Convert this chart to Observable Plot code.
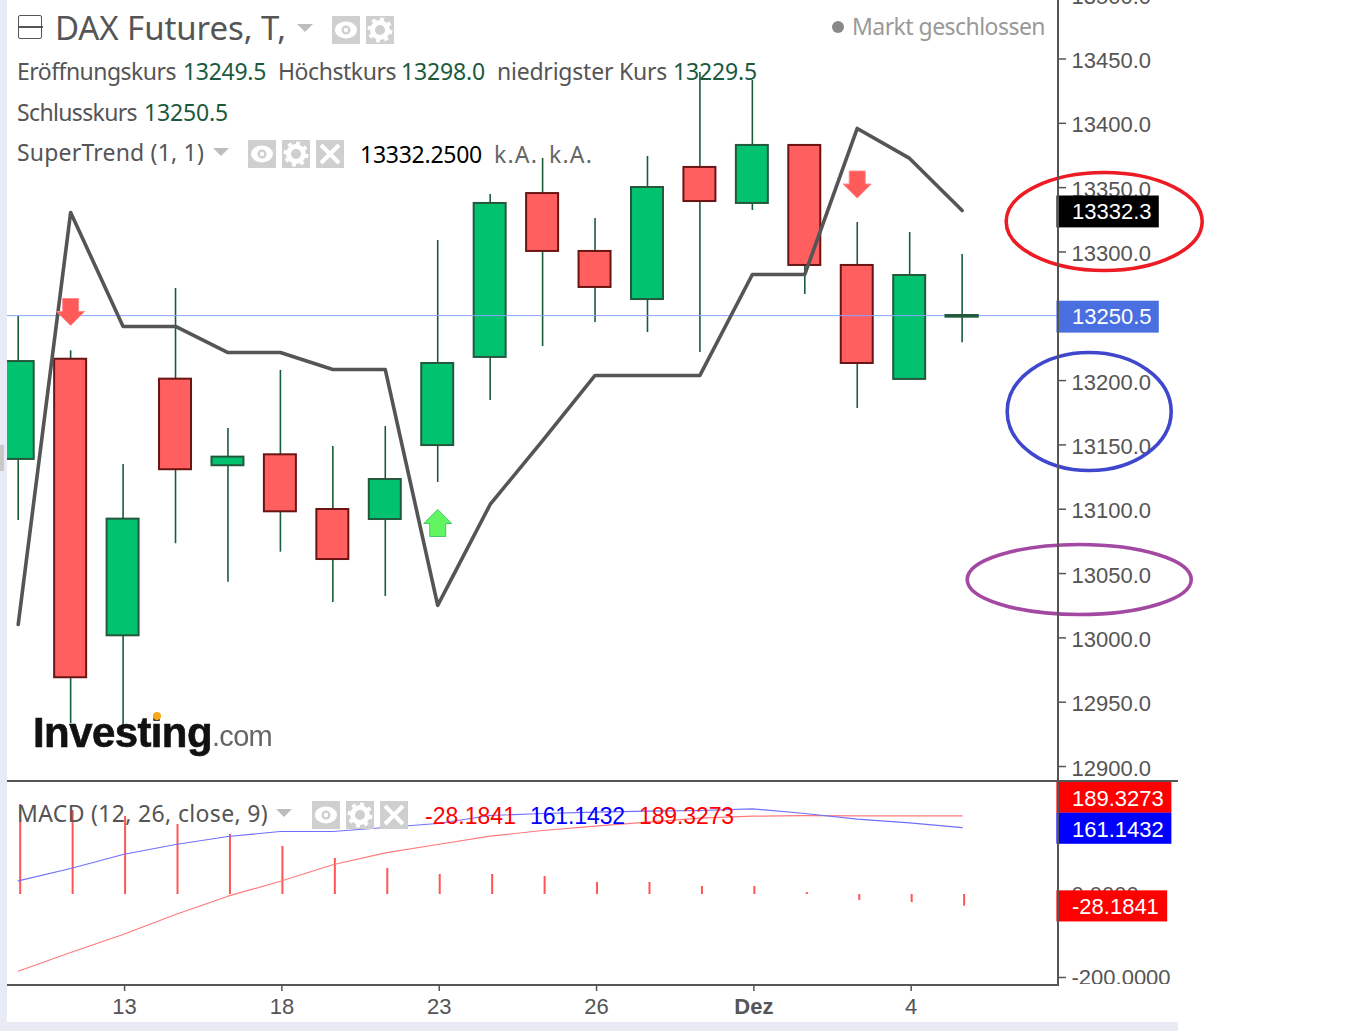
<!DOCTYPE html>
<html lang="de"><head><meta charset="utf-8">
<script src="https://cdn.jsdelivr.net/npm/d3@7"></script>
<script src="https://cdn.jsdelivr.net/npm/@observablehq/plot@0.6"></script>
<style>
html,body{margin:0;padding:0;background:#fff;overflow:hidden}
#page{position:relative;width:1355px;height:1031px;overflow:hidden;font-family:"Noto Sans",sans-serif}
#page>*{position:absolute}
.t{white-space:nowrap;line-height:1}
svg{background:transparent!important}
</style></head><body><div id="page"></div>
<script>
// ---- candles ----
const highs   =[13249.8,13223.2,13134.8,13271.6,13162.8,13207.9,13148.8,13164.3,13308.9,13344.7,13372.7,13326.0,13374.2,13439.5,13433.3,13382.8,13322.9,13315.1,13298.0];
const bodyTops=[13214.8,13216.6,13092.3,13201.1,13140.5,13142.3,13099.8,13123.1,13213.3,13337.7,13345.4,13300.4,13350.1,13365.7,13382.8,13382.8,13289.5,13281.7,13250.5];
const bodyBots=[13138.7,12969.0,13001.6,13130.7,13133.8,13098.0,13060.9,13092.0,13149.5,13218.0,13300.4,13272.4,13263.0,13339.2,13337.7,13289.5,13213.3,13200.9,13249.5];
const lows    =[13091.2,12933.4,12924.1,13073.1,13043.3,13066.6,13027.5,13032.2,13120.8,13184.5,13226.5,13245.2,13237.4,13221.8,13332.2,13266.9,13178.3,13200.9,13229.5];
const kinds   =["g","r","g","r","g","r","r","g","g","g","r","r","g","r","g","r","r","g","d"];
const superTrend=[13010.4,13330.7,13242.1,13242.1,13221.8,13221.8,13208.6,13208.6,13025.2,13103.7,13153.4,13204.0,13204.0,13204.0,13282.5,13282.5,13396.0,13372.7,13332.3];
const arrowIdx=[1,16,8], arrowPrice=[13253.7,13352.8,13088.9], arrowDir=["down","down","up"];
const priceTicks=d3.range(12900,13501,50);
const lastClose=13250.5, lastTrend=13332.3;
// ---- MACD ----
const macdBlue=[33,62.7,96.4,120.5,139.8,151.8,151.8,161.4,171.1,190.4,195.2,198.3,200.7,202.4,206.5,195.2,181.4,172.8,161.1432];
const macdRed=[-184.8,-139.8,-96.4,-48.2,-4.1,32,71.6,100.5,120.5,140.5,154.2,164.6,174.2,183.9,188.7,190,189.5,189.4,189.3273];
const macdHist=[216.9,202.4,188,168.7,144.6,115.7,86.7,62.7,48.2,48.2,43.4,28.9,28.9,19.3,19.3,4.8,-14.5,-19.3,-28.1841];
const macdTicks=[0,-200];
const macdLabelVals=[189.3273,161.1432,-28.1841], macdLabelAt=[233.7,159,-28.1841], macdLabelColors=["#ff0000","#0000ff","#ff0000"];
const xTickIdx=[2,5,8,11,14,17], xTickLabels=["13","18","23","26","Dez","4"];

const page=document.getElementById("page");
const candles=highs.map((h,i)=>({i,h,t:bodyTops[i],b:bodyBots[i],l:lows[i],k:kinds[i],st:superTrend[i]}));
const xDomain=[(7-17.7)/52.44,(1058-17.7)/52.44];
const halfBody=0.305;
const fills={g:"#00c26f",r:"#ff5f5f",d:"#1f5a3a"}, strokes={g:"#24583c",r:"#6a1414",d:"#1f5a3a"};

function box(l,t,w,h,bg){const d=document.createElement("div");d.style.cssText=`left:${l}px;top:${t}px;width:${w}px;height:${h}px;background:${bg}`;page.append(d);return d;}
// page chrome
box(0,0,7,1031,"#e8ebf6");box(0,1022,1178,9,"#e8eaf4");box(0,445,4,26,"#c8c8c8");

const arrowSymbol=dir=>({draw(c){const s=dir==="down"?1:-1;
  c.moveTo(-8,-13*s);c.lineTo(8,-13*s);c.lineTo(8,0);c.lineTo(14,0);c.lineTo(0,14*s);c.lineTo(-14,0);c.lineTo(-8,0);c.closePath();}});
const ellipseSymbol=(rx,ry)=>({draw(c){const k=0.5523;
  c.moveTo(-rx,0);c.bezierCurveTo(-rx,-k*ry,-k*rx,-ry,0,-ry);c.bezierCurveTo(k*rx,-ry,rx,-k*ry,rx,0);
  c.bezierCurveTo(rx,k*ry,k*rx,ry,0,ry);c.bezierCurveTo(-k*rx,ry,-rx,k*ry,-rx,0);c.closePath();}});
const axisStyle={fontSize:22,color:"#555",stroke:"#555",strokeWidth:1.5,label:null};

const main=Plot.plot({
  width:1355,height:781,marginLeft:7,marginRight:297,marginTop:0,marginBottom:0,
  style:{fontFamily:"'Liberation Sans',Arial,sans-serif",overflow:"visible"},
  x:{domain:xDomain,axis:null},
  y:{domain:[12900,13500],range:[766,-5.82],axis:null},
  marks:[
    Plot.axisY({anchor:"right",ticks:priceTicks,tickSize:7,text:null,stroke:"#555",strokeWidth:1.5,label:null}),
    Plot.axisY({anchor:"right",ticks:priceTicks,tickSize:0,tickPadding:13,dy:2,tickFormat:d=>d.toFixed(1),...axisStyle}),
    Plot.ruleX(candles,{x:"i",y1:"l",y2:"h",stroke:"#1a5c3a",strokeWidth:1.6}),
    Plot.rect(candles,{x1:d=>d.i-halfBody,x2:d=>d.i+halfBody,y1:"b",y2:"t",fill:d=>fills[d.k],stroke:d=>strokes[d.k],strokeWidth:2,clip:true}),
    Plot.ruleY([lastClose],{x1:xDomain[0],x2:xDomain[1],stroke:"#8aa4ff",strokeWidth:1}),
    Plot.rect(candles.filter(d=>d.k==="d"),{x1:d=>d.i-halfBody,x2:d=>d.i+halfBody,y1:"b",y2:"t",fill:"#1f5a3a",stroke:"#1f5a3a",strokeWidth:2}),
    Plot.line(candles,{x:"i",y:"st",stroke:"#555",strokeWidth:3.6,curve:"linear"}),
    ...arrowIdx.map((a,j)=>Plot.dot([{a,p:arrowPrice[j]}],{x:"a",y:"p",r:1,symbol:arrowSymbol(arrowDir[j]),
       fill:arrowDir[j]==="down"?"#ff5a5a":"#62f562",stroke:arrowDir[j]==="down"?"#ff8a8a":"#45c76a",strokeWidth:1})),
    // price tags on the axis
    Plot.rect([{p:lastTrend,c:"#000"},{p:lastClose,c:"#4a6fe0"}],{x1:xDomain[1]-0.03,x2:21.76,y1:d=>d.p+11.2,y2:d=>d.p-13.6,fill:"c"}),
    Plot.text([lastTrend,lastClose],{x:xDomain[1],y:d=>d,text:d=>d.toFixed(1),dx:13.5,dy:1.5,textAnchor:"start",fill:"#fff",fontSize:22}),
    // hand-drawn ellipses
    Plot.dot([{i:20.709,p:13323.7}],{x:"i",y:"p",r:1,symbol:ellipseSymbol(98,49),stroke:"#ed1c24",strokeWidth:3.6,fill:"none"}),
    Plot.dot([{i:20.423,p:13176}],{x:"i",y:"p",r:1,symbol:ellipseSymbol(82,59),stroke:"#3f48cc",strokeWidth:3.6,fill:"none"}),
    Plot.dot([{i:20.233,p:13045.4}],{x:"i",y:"p",r:1,symbol:ellipseSymbol(112,35),stroke:"#a349a4",strokeWidth:3.6,fill:"none"})
  ]
});
main.style.cssText+=";left:0;top:0";
page.append(main);

const macdRows=candles.map(d=>({i:d.i,blue:macdBlue[d.i],red:macdRed[d.i],hist:macdHist[d.i]}));
const macdTags=macdLabelVals.map((v,j)=>({v,at:macdLabelAt[j],c:macdLabelColors[j]}));
const macd=Plot.plot({
  width:1355,height:250,marginLeft:7,marginRight:297,marginTop:0,marginBottom:47,
  style:{fontFamily:"'Liberation Sans',Arial,sans-serif",overflow:"visible"},
  x:{domain:xDomain,axis:null},
  y:{domain:[-200,300],range:[196,-11.5],axis:null},
  marks:[
    Plot.axisY({anchor:"right",ticks:macdTicks,tickSize:7,tickPadding:6,tickFormat:d=>d.toFixed(4),...axisStyle}),
    Plot.axisX({anchor:"bottom",ticks:xTickIdx.filter((_,j)=>xTickLabels[j]!=="Dez"),tickSize:7,tickPadding:7,dx:1.5,
      tickFormat:i=>xTickLabels[xTickIdx.indexOf(i)],...axisStyle}),
    Plot.axisX({anchor:"bottom",ticks:xTickIdx.filter((_,j)=>xTickLabels[j]==="Dez"),tickSize:7,tickPadding:7,dx:1.5,
      tickFormat:i=>xTickLabels[xTickIdx.indexOf(i)],fontWeight:"bold",...axisStyle}),
    Plot.ruleX(macdRows,{x:"i",y1:0,y2:"hist",dx:2,stroke:"#ff5555",strokeWidth:2}),
    Plot.line(macdRows,{x:"i",y:"red",stroke:"#ff7a7a",strokeWidth:1.2}),
    Plot.line(macdRows,{x:"i",y:"blue",stroke:"#7070ff",strokeWidth:1.2}),
    Plot.rect(macdTags,{x1:xDomain[1]-0.03,x2:d=>d.v<0?21.92:22,y1:d=>d.at+37,y2:d=>d.at-38,fill:"c"}),
    Plot.text(macdTags,{x:xDomain[1],y:"at",text:d=>d.v.toFixed(4),textAnchor:"start",fill:"#fff",fontSize:22,dx:13.5,dy:1})
  ]
});
macd.style.cssText+=";left:0;top:781px";
page.append(macd);

// the reference cuts the lowest axis label at the panel edge
box(1060,984,118,8,"#fff");
// frame lines
box(1057,0,2,985,"#555");box(7,780,1171,2,"#555");box(7,984,1052,2,"#555");

// legend text, fitted to the widths seen in the reference
function txt(s,l,cy,size,color,w,extra){
  const e=document.createElement("div");e.className="t";e.textContent=s;
  e.style.cssText=`left:${l}px;font-size:${size}px;color:${color};`+(extra||"");
  page.append(e);
  const r=e.getBoundingClientRect();
  e.style.top=(cy-r.height/2)+"px";
  if(w)e.style.letterSpacing=((w-r.width)/s.length)+"px";
  return e;
}
const G="#555",V="#1b5a3c";
txt("DAX Futures, T,",55,27.5,33,G,231);
txt("Markt geschlossen",852,26.5,23,"#999",193);
txt("Eröffnungskurs",17,71.5,23,G,159);
txt("13249.5",183,71.5,23,V,83);
txt("Höchstkurs",278,71.5,23,G,118);
txt("13298.0",401,71.5,23,V,84);
txt("niedrigster Kurs",497,71.5,23,G,170);
txt("13229.5",673,71.5,23,V,84);
txt("Schlusskurs",17,112.5,23,G,120);
txt("13250.5",144,112.5,23,V,84);
txt("SuperTrend (1, 1)",17,152.5,23,G,187);
txt("13332.2500",360,154.5,23,"#000",122);
txt("k.A.",494,154.5,23,"#666",44);
txt("k.A.",549,154.5,23,"#666",44);
txt("MACD (12, 26, close, 9)",17,813.5,23,G,251);
const L="font-family:'Liberation Sans',Arial,sans-serif;";
txt("-28.1841",425,816,23,"#f00",91,L);
txt("161.1432",530,816,23,"#00f",95,L);
txt("189.3273",639,816,23,"#f00",95,L);
txt("Investing",33,733,42,"#111",179,L+"font-weight:bold;filter:blur(.7px);-webkit-text-stroke:.6px #111;");
txt(".com",212,736,29,"#666",60,L+"filter:blur(.5px);");
const dot=box(153,712,8,8,"#f7a81b");dot.style.borderRadius="50%";
const md=box(832,21,12,12,"#888");md.style.borderRadius="50%";

// little controls
function icon(kind,l,t){
  const s=document.createElementNS("http://www.w3.org/2000/svg","svg");
  s.setAttribute("width",28);s.setAttribute("height",28);s.setAttribute("viewBox","0 0 28 28");
  s.style.cssText=`left:${l}px;top:${t}px`;
  let h=`<rect width="28" height="28" fill="#cfcfcf"/>`;
  if(kind==="eye")h+=`<ellipse cx="14" cy="14" rx="11" ry="8.5" fill="#fff"/><circle cx="14" cy="14" r="4.5" fill="#cfcfcf"/><circle cx="14" cy="14" r="2.2" fill="#fff"/>`;
  if(kind==="gear")h+=`<circle cx="14" cy="14" r="7.5" fill="none" stroke="#fff" stroke-width="5"/><circle cx="14" cy="14" r="11" fill="none" stroke="#fff" stroke-width="3" stroke-dasharray="4 4.6"/>`;
  if(kind==="x")h+=`<path d="M5 5L23 23M23 5L5 23" stroke="#fff" stroke-width="4"/>`;
  s.innerHTML=h;page.append(s);
}
icon("eye",332,16);icon("gear",366,16);
icon("eye",248,140);icon("gear",282,140);icon("x",316,140);
icon("eye",312,801);icon("gear",346,801);icon("x",380,801);
function tri(l,t){const e=document.createElement("div");e.style.cssText=`left:${l}px;top:${t}px;width:0;height:0;border-left:8px solid transparent;border-right:8px solid transparent;border-top:8px solid #bdbdbd`;page.append(e);}
tri(297,24);tri(213,148);tri(276,809);
const c=document.createElement("div");c.style.cssText="left:18px;top:15px;width:22px;height:22px;border:1.5px solid #555;border-radius:2px";page.append(c);
box(18,26,25,1.5,"#555");
</script></body></html>
